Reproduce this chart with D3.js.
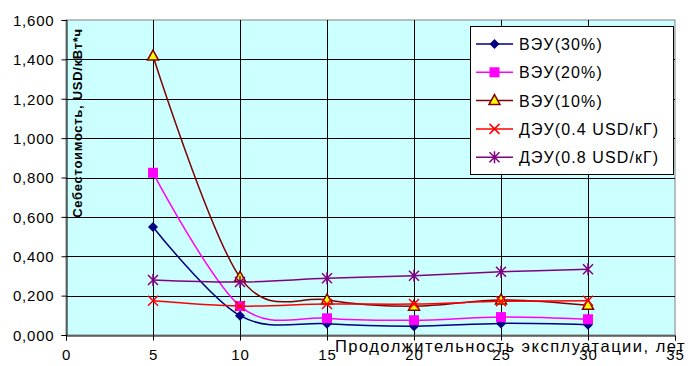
<!DOCTYPE html>
<html><head><meta charset="utf-8">
<script src="https://cdn.jsdelivr.net/npm/d3@7"></script>
<style>body{margin:0;background:#fff}svg{display:block}text{font-family:"Liberation Sans",Arial,sans-serif}</style>
</head><body><svg id="c" width="690" height="366"></svg>
<script>
const years = [5, 10, 15, 20, 25, 30];
const seriesNames = ["ВЭУ(30%)", "ВЭУ(20%)", "ВЭУ(10%)", "ДЭУ(0.4 USD/кГ)", "ДЭУ(0.8 USD/кГ)"];
const vey30 = [0.549, 0.098, 0.057, 0.045, 0.059, 0.052];
const vey20 = [0.824, 0.147, 0.085, 0.075, 0.091, 0.080];
const vey10 = [1.417, 0.293, 0.178, 0.146, 0.178, 0.151];
const dey04 = [0.174, 0.147, 0.157, 0.157, 0.171, 0.174];
const dey08 = [0.279, 0.269, 0.288, 0.301, 0.321, 0.334];
const xTicks = [0, 5, 10, 15, 20, 25, 30, 35];
const yTicks = [0, 0.2, 0.4, 0.6, 0.8, 1.0, 1.2, 1.4, 1.6];
const yTitle = "Себестоимость, USD/кВт*ч";
const xTitle = "Продолжительность эксплуатации, лет";

const series = [
  {name: seriesNames[0], values: vey30, color: "#000080", marker: "diamond"},
  {name: seriesNames[1], values: vey20, color: "#FF00FF", marker: "square"},
  {name: seriesNames[2], values: vey10, color: "#800000", marker: "triangle"},
  {name: seriesNames[3], values: dey04, color: "#FF0000", marker: "x"},
  {name: seriesNames[4], values: dey08, color: "#800080", marker: "star"}
];

const svg = d3.select("#c");
const L = 66, R = 675, T = 20, B = 335;
const x = d3.scaleLinear().domain([0, 35]).range([L, R]);
const y = d3.scaleLinear().domain([0, 1.6]).range([B, T]);

svg.append("rect").attr("x", L).attr("y", T).attr("width", R - L).attr("height", B - T)
  .attr("fill", "#CCFFFF").attr("stroke", "#808080").attr("stroke-width", 1);

// gridlines
const g = svg.append("g");
g.selectAll("line.h").data(yTicks.slice(1, -1)).join("line")
  .attr("x1", L).attr("x2", R).attr("y1", d => Math.round(y(d)) + 0.5).attr("y2", d => Math.round(y(d)) + 0.5)
  .attr("stroke", "#000").attr("stroke-width", 1);
g.selectAll("line.v").data(xTicks.slice(1, -1)).join("line")
  .attr("y1", T).attr("y2", B).attr("x1", d => Math.round(x(d)) + 0.5).attr("x2", d => Math.round(x(d)) + 0.5)
  .attr("stroke", "#000").attr("stroke-width", 1);

// axes
const loc = d3.formatLocale({decimal: ",", thousands: " ", grouping: [3], currency: ["", ""]});
const fmt = loc.format(".3f");
const FF = "Liberation Sans, Arial, sans-serif";
const yAxis = d3.axisLeft(y).tickValues(yTicks).tickSize(5).tickPadding(7).tickFormat(d => fmt(d));
const yg = svg.append("g").attr("transform", `translate(${L + 0.5},0)`).call(yAxis);
yg.select(".domain").attr("stroke", "#000");
yg.selectAll("text").attr("font-size", 15).attr("fill", "#000").attr("font-family", FF).attr("letter-spacing", 0.8).attr("dy", "0.35em");
const xAxis = d3.axisBottom(x).tickValues(xTicks).tickSize(5).tickPadding(9).tickFormat(d3.format("d"));
const xg = svg.append("g").attr("transform", `translate(0,${B + 0.5})`).call(xAxis);
xg.select(".domain").attr("stroke", "#000");
xg.selectAll("text").attr("font-size", 15).attr("fill", "#000").attr("font-family", FF).attr("letter-spacing", 0.8);

// titles
svg.append("text").attr("transform", `translate(82,${(28 + 218) / 2}) rotate(-90)`)
  .attr("text-anchor", "middle").attr("font-size", 13).attr("font-weight", "bold").attr("letter-spacing", 0.7).text(yTitle);
svg.append("text").attr("x", 686).attr("y", 352).attr("text-anchor", "end").attr("font-size", 16.5).attr("letter-spacing", 1.5).text(xTitle);

// lines
const line = d3.line().x((d, i) => x(years[i])).y(d => y(d)).curve(d3.curveCardinal.tension(0));
function marker(sel, type, color, cx, cy) {
  const gm = sel.append("g").attr("transform", `translate(${cx},${cy})`);
  if (type === "diamond") gm.append("path").attr("d", "M0,-5L5,0L0,5L-5,0Z").attr("fill", color);
  else if (type === "square") gm.append("rect").attr("x", -5).attr("y", -5).attr("width", 10).attr("height", 10).attr("fill", color);
  else if (type === "triangle") gm.append("path").attr("d", "M0,-6L5.5,4L-5.5,4Z").attr("fill", "#FFFF00").attr("stroke", color).attr("stroke-width", 1.5);
  else if (type === "x") gm.append("path").attr("d", "M-5,-5L5,5M-5,5L5,-5").attr("stroke", color).attr("stroke-width", 1.5);
  else if (type === "star") gm.append("path").attr("d", "M-5,-5L5,5M-5,5L5,-5M0,-6L0,6").attr("stroke", color).attr("stroke-width", 1.5);
}
series.forEach(s => {
  svg.append("path").attr("d", line(s.values)).attr("fill", "none").attr("stroke", s.color).attr("stroke-width", 1.5);
  const mg = svg.append("g");
  s.values.forEach((v, i) => marker(mg, s.marker, s.color, x(years[i]), y(v)));
});

// legend
const lg = svg.append("g");
lg.append("rect").attr("x", 470.5).attr("y", 26.5).attr("width", 203).attr("height", 148)
  .attr("fill", "#fff").attr("stroke", "#000").attr("stroke-width", 1);
series.forEach((s, i) => {
  const yy = 44 + i * 28.3;
  lg.append("line").attr("x1", 476).attr("x2", 513).attr("y1", yy).attr("y2", yy).attr("stroke", s.color).attr("stroke-width", 1.5);
  marker(lg, s.marker, s.color, 494.5, yy);
  lg.append("text").attr("x", 519).attr("y", yy + 6).attr("font-size", 16).attr("letter-spacing", 1.1).text(s.name);
});
</script></body></html>
